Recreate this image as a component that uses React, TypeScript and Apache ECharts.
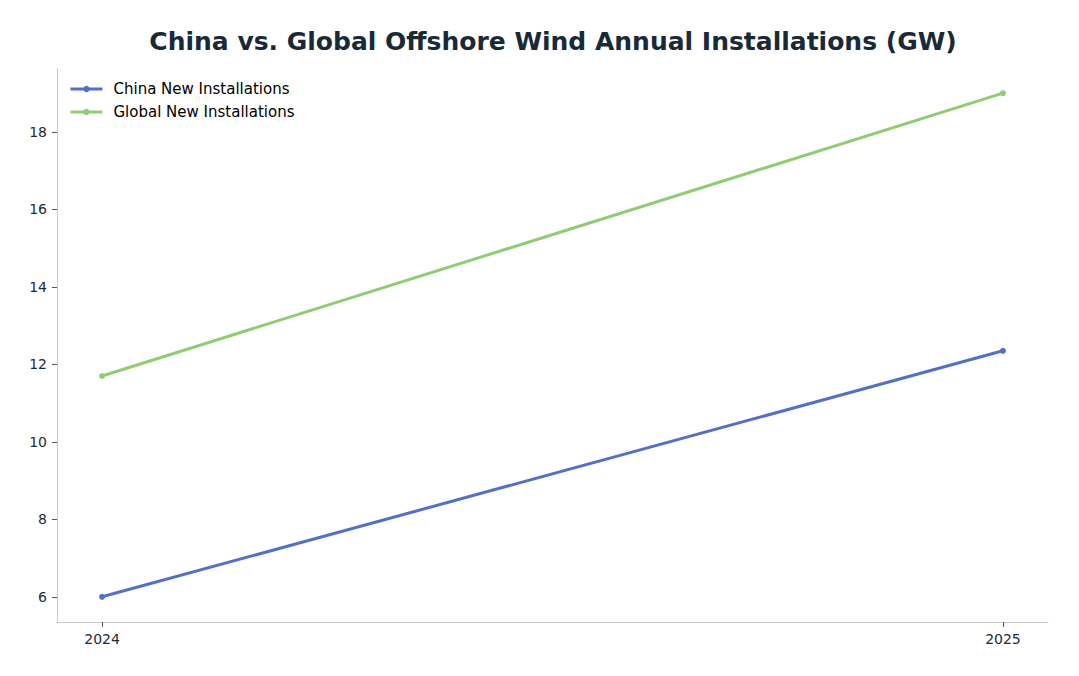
import { useEffect, useRef } from "react";
import * as echarts from "echarts";

const years = [2024, 2025];
const chinaNew = [6.0, 12.35];
const globalNew = [11.7, 19.0];
const yTicks = [6, 8, 10, 12, 14, 16, 18];

const FONT = "DejaVu Sans, sans-serif";
const TEXT = "#1c2b39";

export default function App() {
  const chartRef = useRef<HTMLDivElement | null>(null);

  useEffect(() => {
    if (!chartRef.current) return;
    const chart = echarts.init(chartRef.current, undefined, { renderer: "svg" });

    const option: echarts.EChartsOption = {
      animation: false,
      backgroundColor: "#ffffff",
      title: {
        text: "China vs. Global Offshore Wind Annual Installations (GW)",
        left: 548,
        top: 24,
        textAlign: "center",
        textStyle: { fontFamily: FONT, fontSize: 25, fontWeight: "bold", color: "#182a38" },
      },
      legend: {
        orient: "vertical",
        left: 69,
        top: 80,
        padding: 0,
        itemWidth: 32,
        itemHeight: 8,
        itemGap: 5,
        lineStyle: { width: 3 },
        textStyle: { fontFamily: FONT, fontSize: 15, color: "#000", lineHeight: 18, padding: [0, 0, 0, 6] },
      },
      grid: { left: 57, right: 31, top: 68, bottom: 54, containLabel: false },
      xAxis: {
        type: "value",
        min: 2023.95,
        max: 2025.05,
        splitLine: { show: false },
        axisLine: { show: true, lineStyle: { color: "#cccccc", width: 1 } },
        axisTick: { show: true, length: 5, lineStyle: { color: "#555" }, customValues: years },
        axisLabel: {
          customValues: years,
          color: TEXT,
          fontFamily: FONT,
          fontSize: 14,
          margin: 10,
          formatter: (v: number) => String(Math.round(v)),
        },
      },
      yAxis: {
        type: "value",
        min: 5.35,
        max: 19.65,
        splitLine: { show: false },
        axisLine: { show: true, lineStyle: { color: "#cccccc", width: 1 } },
        axisTick: { show: true, length: 5, lineStyle: { color: "#555" }, customValues: yTicks },
        axisLabel: {
          customValues: yTicks,
          color: TEXT,
          fontFamily: FONT,
          fontSize: 14,
          margin: 10,
        },
      },
      series: [
        {
          name: "China New Installations",
          type: "line",
          data: years.map((y, i) => [y, chinaNew[i]]),
          symbol: "circle",
          symbolSize: 6,
          color: "#5470c6",
          lineStyle: { width: 3, color: "#5470c6" },
          itemStyle: { color: "#5470c6" },
        },
        {
          name: "Global New Installations",
          type: "line",
          data: years.map((y, i) => [y, globalNew[i]]),
          symbol: "circle",
          symbolSize: 6,
          color: "#91cc75",
          lineStyle: { width: 3, color: "#91cc75" },
          itemStyle: { color: "#91cc75" },
        },
      ],
    };

    chart.setOption(option);
    return () => chart.dispose();
  }, []);

  return (
    <div
      ref={chartRef}
      style={{ position: "fixed", left: 0, top: 0, width: 1079, height: 676 }}
    />
  );
}
